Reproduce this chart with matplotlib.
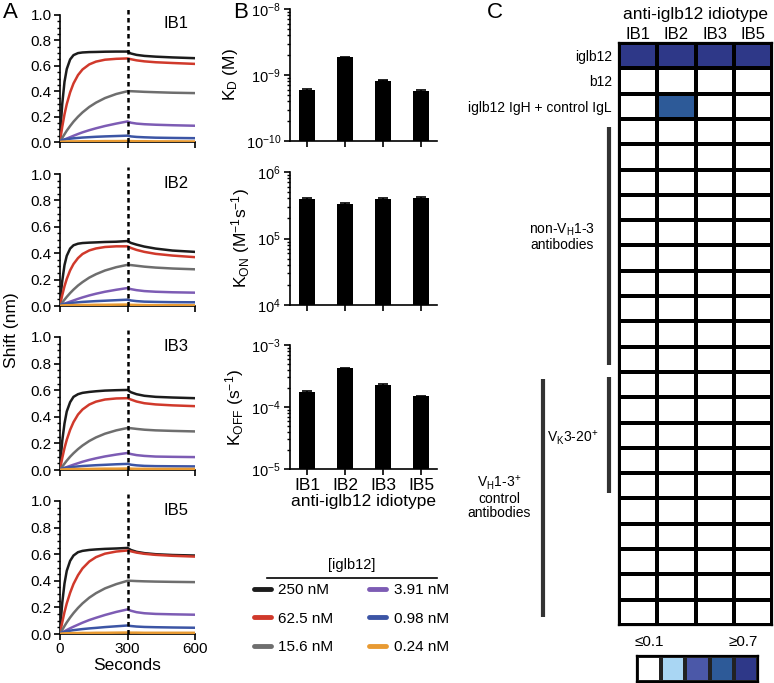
import numpy as np
import matplotlib
matplotlib.use("Agg")
import matplotlib.pyplot as plt
from matplotlib.colors import ListedColormap, BoundaryNorm
from matplotlib.lines import Line2D
from matplotlib.ticker import MultipleLocator, LogLocator, NullFormatter, FormatStrFormatter

plt.rcParams['font.family'] = ['Liberation Sans', 'DejaVu Sans']
plt.rcParams['mathtext.fontset'] = 'custom'
plt.rcParams['mathtext.rm'] = 'Liberation Sans'
plt.rcParams['mathtext.it'] = 'Liberation Sans:italic'
plt.rcParams['mathtext.bf'] = 'Liberation Sans:bold'

W, H = 774, 683

# ---------------- data ----------------
# panel A: binding traces (shift in nm)
time_s = [0, 5, 10, 20, 30, 45, 60, 80, 100, 130, 160, 200, 250, 300,
          315, 340, 375, 425, 500, 600]
conc_labels = ['250 nM', '62.5 nM', '15.6 nM', '3.91 nM', '0.98 nM', '0.24 nM']
conc_colors = ['#1c1c1c', '#d0392b', '#6e6e6e', '#7d5cb4', '#3c55a5', '#e89a32']

ib1_traces = [
    [0, 0.17, 0.30, 0.474, 0.574, 0.65, 0.684, 0.70, 0.705, 0.708, 0.709, 0.711, 0.712, 0.712, 0.697, 0.686, 0.678, 0.672, 0.666, 0.66],
    [0, 0.063, 0.12, 0.218, 0.298, 0.391, 0.461, 0.527, 0.571, 0.611, 0.633, 0.648, 0.655, 0.658, 0.652, 0.643, 0.635, 0.628, 0.622, 0.615],
    [0, 0.016, 0.032, 0.061, 0.089, 0.126, 0.16, 0.199, 0.233, 0.276, 0.31, 0.346, 0.378, 0.40, 0.40, 0.398, 0.395, 0.392, 0.388, 0.385],
    [0, 0.008, 0.012, 0.02, 0.027, 0.038, 0.049, 0.063, 0.076, 0.093, 0.108, 0.126, 0.145, 0.162, 0.152, 0.145, 0.14, 0.136, 0.132, 0.128],
    [0, 0.01, 0.015, 0.02, 0.023, 0.026, 0.029, 0.032, 0.035, 0.038, 0.041, 0.044, 0.047, 0.05, 0.044, 0.04, 0.037, 0.034, 0.032, 0.03],
    [0, 0.002, 0.003, 0.004, 0.004, 0.005, 0.005, 0.005, 0.006, 0.006, 0.006, 0.007, 0.007, 0.008, 0.007, 0.006, 0.006, 0.005, 0.005, 0.004],
]
ib2_traces = [
    [0, 0.11, 0.19, 0.31, 0.38, 0.435, 0.46, 0.472, 0.477, 0.48, 0.482, 0.485, 0.487, 0.492, 0.478, 0.465, 0.45, 0.435, 0.42, 0.41],
    [0, 0.043, 0.082, 0.15, 0.205, 0.27, 0.318, 0.363, 0.394, 0.421, 0.436, 0.447, 0.452, 0.452, 0.44, 0.425, 0.41, 0.395, 0.382, 0.37],
    [0, 0.013, 0.025, 0.048, 0.069, 0.098, 0.124, 0.155, 0.181, 0.215, 0.241, 0.269, 0.294, 0.312, 0.31, 0.305, 0.298, 0.291, 0.284, 0.278],
    [0, 0.006, 0.01, 0.017, 0.024, 0.033, 0.042, 0.054, 0.065, 0.08, 0.093, 0.108, 0.123, 0.136, 0.128, 0.12, 0.113, 0.108, 0.104, 0.101],
    [0, 0.008, 0.012, 0.016, 0.019, 0.022, 0.025, 0.028, 0.031, 0.034, 0.037, 0.04, 0.044, 0.048, 0.042, 0.037, 0.033, 0.031, 0.029, 0.028],
    [0, 0.003, 0.004, 0.005, 0.006, 0.006, 0.007, 0.007, 0.008, 0.008, 0.009, 0.009, 0.01, 0.011, 0.009, 0.008, 0.007, 0.006, 0.006, 0.005],
]
ib3_traces = [
    [0, 0.12, 0.22, 0.35, 0.44, 0.51, 0.55, 0.57, 0.58, 0.587, 0.592, 0.597, 0.60, 0.602, 0.585, 0.57, 0.558, 0.55, 0.545, 0.54],
    [0, 0.047, 0.09, 0.165, 0.227, 0.302, 0.36, 0.417, 0.455, 0.492, 0.514, 0.53, 0.538, 0.54, 0.53, 0.515, 0.502, 0.493, 0.486, 0.48],
    [0, 0.013, 0.025, 0.048, 0.07, 0.10, 0.126, 0.157, 0.184, 0.218, 0.245, 0.273, 0.298, 0.316, 0.314, 0.309, 0.303, 0.298, 0.294, 0.29],
    [0, 0.006, 0.01, 0.016, 0.022, 0.031, 0.04, 0.051, 0.062, 0.076, 0.088, 0.102, 0.116, 0.128, 0.12, 0.112, 0.106, 0.101, 0.099, 0.097],
    [0, 0.007, 0.011, 0.015, 0.018, 0.021, 0.024, 0.027, 0.03, 0.033, 0.036, 0.039, 0.043, 0.046, 0.04, 0.035, 0.031, 0.029, 0.028, 0.027],
    [0, 0.003, 0.004, 0.005, 0.006, 0.006, 0.007, 0.007, 0.008, 0.008, 0.009, 0.01, 0.01, 0.011, 0.01, 0.009, 0.009, 0.008, 0.008, 0.008],
]
ib5_traces = [
    [0, 0.13, 0.235, 0.38, 0.475, 0.55, 0.59, 0.615, 0.625, 0.632, 0.636, 0.64, 0.643, 0.647, 0.632, 0.618, 0.608, 0.60, 0.594, 0.59],
    [0, 0.047, 0.088, 0.165, 0.23, 0.31, 0.376, 0.442, 0.493, 0.545, 0.578, 0.604, 0.62, 0.628, 0.622, 0.612, 0.603, 0.595, 0.588, 0.582],
    [0, 0.016, 0.031, 0.06, 0.087, 0.124, 0.157, 0.196, 0.23, 0.273, 0.307, 0.343, 0.375, 0.40, 0.40, 0.398, 0.396, 0.394, 0.392, 0.39],
    [0, 0.007, 0.012, 0.021, 0.03, 0.043, 0.055, 0.07, 0.085, 0.105, 0.122, 0.143, 0.166, 0.185, 0.175, 0.164, 0.156, 0.151, 0.148, 0.145],
    [0, 0.008, 0.012, 0.017, 0.021, 0.025, 0.029, 0.033, 0.037, 0.042, 0.046, 0.052, 0.058, 0.064, 0.06, 0.056, 0.053, 0.051, 0.049, 0.047],
    [0, 0.003, 0.004, 0.005, 0.006, 0.006, 0.007, 0.007, 0.008, 0.008, 0.009, 0.009, 0.01, 0.011, 0.01, 0.01, 0.009, 0.009, 0.009, 0.009],
]
panel_names = ['IB1', 'IB2', 'IB3', 'IB5']

# panel B: kinetic constants
idiotypes = ['IB1', 'IB2', 'IB3', 'IB5']
kd = [6.0e-10, 1.85e-9, 8.2e-10, 5.7e-10]
kd_err = [0.2e-10, 0.5e-10, 0.2e-10, 0.2e-10]
kon = [3.9e5, 3.3e5, 3.9e5, 4.1e5]
kon_err = [0.1e5, 0.1e5, 0.1e5, 0.15e5]
koff = [1.72e-4, 4.2e-4, 2.25e-4, 1.48e-4]
koff_err = [0.06e-4, 0.1e-4, 0.06e-4, 0.05e-4]

# panel C: ELISA reactivity, rows = antibodies, cols = IB1, IB2, IB3, IB5
row_labels = ['iglb12', 'b12', 'iglb12 IgH + control IgL']
top_rows = [
    [0.85, 0.85, 0.85, 0.85],
    [0.0, 0.0, 0.0, 0.0],
    [0.0, 0.6, 0.0, 0.0],
]
non_vh13_rows = [
    [0, 0, 0, 0], [0, 0, 0, 0], [0, 0, 0, 0], [0, 0, 0, 0], [0, 0, 0, 0],
    [0, 0, 0, 0], [0, 0, 0, 0], [0, 0, 0, 0], [0, 0, 0, 0], [0, 0, 0, 0],
]
vh13_rows = [
    [0, 0, 0, 0], [0, 0, 0, 0], [0, 0, 0, 0], [0, 0, 0, 0], [0, 0, 0, 0],
    [0, 0, 0, 0], [0, 0, 0, 0], [0, 0, 0, 0], [0, 0, 0, 0], [0, 0, 0, 0],
]
bin_edges = [-1, 0.1, 0.3, 0.5, 0.7, 2]
bin_colors = ['#ffffff', '#a9d6f3', '#4b58a8', '#2d5a98', '#2e3888']


def px_axes(fig, left, top, right, bottom):
    return fig.add_axes([left / W, 1 - bottom / H, (right - left) / W, (bottom - top) / H])


fig = plt.figure(figsize=(W / 100, H / 100), dpi=100)

# ---------------- panel A ----------------
a_rows = [(15, 142), (174, 306), (337, 470), (501, 634)]
all_traces = [ib1_traces, ib2_traces, ib3_traces, ib5_traces]
for i, (top, bot) in enumerate(a_rows):
    ax = px_axes(fig, 60, top, 195, bot)
    for vals, col in zip(all_traces[i], conc_colors):
        ax.plot(time_s, vals, color=col, lw=1.8, solid_capstyle='round', zorder=3)
    ax.plot([300, 300], [0, 1.05], ls=(0, (1.8, 1.4)), color='k', lw=1.8,
            clip_on=False, zorder=4)
    ax.set_xlim(0, 600)
    ax.set_ylim(0, 1.0)
    ax.yaxis.set_major_locator(MultipleLocator(0.2))
    ax.yaxis.set_minor_locator(MultipleLocator(0.05))
    ax.yaxis.set_major_formatter(FormatStrFormatter('%.1f'))
    ax.set_xticks([0, 300, 600])
    for s in ['top', 'right']:
        ax.spines[s].set_visible(False)
    for s in ['left', 'bottom']:
        ax.spines[s].set_linewidth(1.2)
    ax.tick_params(axis='both', which='major', length=4, width=1.2, labelsize=11, pad=2)
    ax.tick_params(axis='y', which='minor', length=2.5, width=1.0)
    if i < 3:
        ax.tick_params(axis='x', labelbottom=False)
    else:
        ax.set_xlabel('Seconds', fontsize=12.5, labelpad=1)
    ax.text(0.95, 0.93, panel_names[i], transform=ax.transAxes, ha='right',
            va='center', fontsize=12)

fig.text(12 / W, 1 - 330 / H, 'Shift (nm)', rotation=90, ha='center', va='center', fontsize=12.5)
fig.text(3 / W, 1 - 13 / H, 'A', fontsize=16, ha='left', va='center')

# ---------------- panel B ----------------
b_rows = [(9, 141), (172, 305), (345, 469)]
b_vals = [(kd, kd_err, (1e-10, 1e-8), r'K$_\mathregular{D}$ (M)'),
          (kon, kon_err, (1e4, 1e6), r'K$_\mathregular{ON}$ (M$^\mathregular{-1}$s$^\mathregular{-1}$)'),
          (koff, koff_err, (1e-5, 1e-3), r'K$_\mathregular{OFF}$ (s$^\mathregular{-1}$)')]
xpos = np.arange(len(idiotypes))
for i, (top, bot) in enumerate(b_rows):
    vals, errs, lims, lab = b_vals[i]
    ax = px_axes(fig, 290, top, 437, bot)
    ax.bar(xpos, vals, width=0.42, color='k', zorder=3)
    ax.errorbar(xpos, vals, yerr=errs, fmt='none', ecolor='k', capsize=3.5, elinewidth=1.2, capthick=1.2)
    ax.set_yscale('log')
    ax.set_ylim(*lims)
    ax.set_xlim(-0.45, 3.42)
    ax.yaxis.set_major_locator(LogLocator(base=10, numticks=5))
    ax.yaxis.set_minor_locator(LogLocator(base=10, subs=np.arange(2, 10), numticks=20))
    ax.yaxis.set_minor_formatter(NullFormatter())
    ax.set_xticks(xpos)
    for s in ['top', 'right']:
        ax.spines[s].set_visible(False)
    for s in ['left', 'bottom']:
        ax.spines[s].set_linewidth(1.2)
    ax.tick_params(axis='both', which='major', length=4.5, width=1.2, labelsize=10.5, pad=2)
    ax.tick_params(axis='y', which='minor', length=2.5, width=1.0)
    ax.set_ylabel(lab, fontsize=12.5, labelpad=4)
    if i < 2:
        ax.set_xticklabels([])
    else:
        ax.set_xticklabels(idiotypes, fontsize=12.5)
        ax.set_xlabel('anti-iglb12 idiotype', fontsize=12.5, labelpad=1)

fig.text(233 / W, 1 - 13 / H, 'B', fontsize=16, ha='left', va='center')

# legend
fig.text(352 / W, 1 - 565 / H, '[iglb12]', ha='center', va='center', fontsize=10.5)
fig.add_artist(Line2D([267 / W, 437 / W], [1 - 578 / H, 1 - 578 / H], transform=fig.transFigure,
                      color='k', lw=1.2))
handles = [Line2D([0], [0], color=c, lw=3.5, solid_capstyle='round') for c in conc_colors]
leg = fig.legend(handles, conc_labels, loc='upper left', bbox_to_anchor=(254 / W, 1 - 583 / H),
                 ncol=2, frameon=False, fontsize=11,
                 handlelength=1.1, handletextpad=0.5, columnspacing=2.35, labelspacing=0.95,
                 borderpad=0, borderaxespad=0)

# ---------------- panel C ----------------
grid = np.array(top_rows + non_vh13_rows + vh13_rows, dtype=float)
cmap = ListedColormap(bin_colors)
norm = BoundaryNorm(bin_edges, cmap.N)
axc = px_axes(fig, 619, 43, 772, 625)
axc.pcolormesh(grid, cmap=cmap, norm=norm, edgecolors='k', linewidth=1.6)
axc.set_xlim(0, 4)
axc.set_ylim(grid.shape[0], 0)
for s in axc.spines.values():
    s.set_linewidth(1.6)
axc.xaxis.tick_top()
axc.set_xticks(np.arange(4) + 0.5)
axc.set_xticklabels(idiotypes, fontsize=12)
axc.set_yticks(np.arange(3) + 0.5)
axc.set_yticklabels(row_labels, fontsize=10)
axc.tick_params(axis='y', length=0, pad=5)
axc.tick_params(axis='x', length=0, pad=1)
axc.set_title('anti-iglb12 idiotype', fontsize=12.5, pad=17)

# group brackets
bracket_kw = dict(color='#333333', lw=3, clip_on=False, solid_capstyle='butt')
axc.plot([-0.26, -0.26], [3.32, 12.73], **bracket_kw)
axc.plot([-0.26, -0.26], [13.2, 17.8], **bracket_kw)
axc.plot([-1.99, -1.99], [13.28, 22.7], **bracket_kw)
axc.text(-1.49, 7.65, 'non-V$_\\mathregular{H}$1-3\nantibodies', ha='center', va='center', fontsize=10,
         linespacing=1.0)
axc.text(-0.55, 15.6, 'V$_\\mathregular{K}$3-20$^\\mathregular{+}$', ha='right', va='center', fontsize=10)
axc.text(-3.14, 17.95, 'V$_\\mathregular{H}$1-3$^\\mathregular{+}$\ncontrol\nantibodies', ha='center',
         va='center', fontsize=10, linespacing=1.0)

fig.text(487 / W, 1 - 13 / H, 'C', fontsize=16, ha='left', va='center')

# colour key
axk = px_axes(fig, 637, 656, 758, 682)
axk.pcolormesh(np.array([[0.0, 0.2, 0.4, 0.6, 0.8]]), cmap=cmap, norm=norm, edgecolors='#222222', linewidth=1.6)
axk.set_xlim(0, 5)
axk.set_ylim(0, 1)
axk.set_xticks([])
axk.set_yticks([])
for s in axk.spines.values():
    s.set_linewidth(1.6)
axk.text(0.5, 1.25, '≤0.1', ha='center', va='bottom', fontsize=11)
axk.text(4.4, 1.25, '≥0.7', ha='center', va='bottom', fontsize=11)

fig.savefig('out.png', dpi=100)
